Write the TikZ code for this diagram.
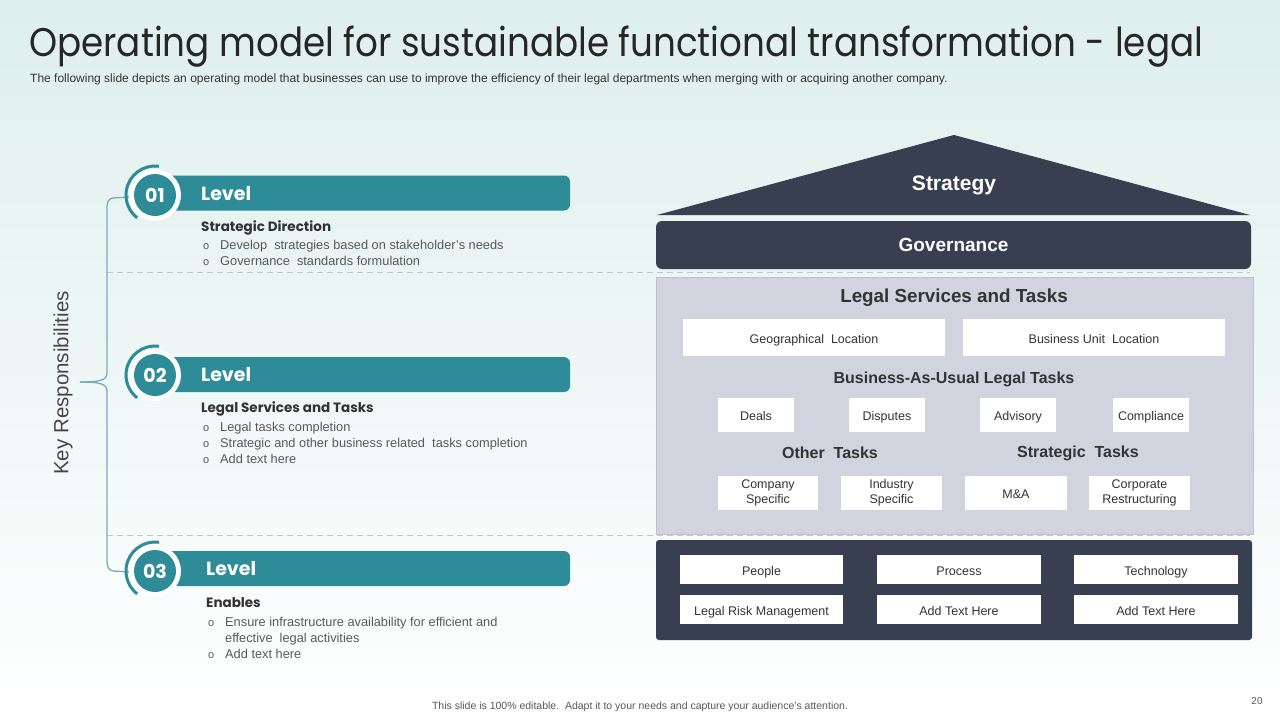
\documentclass[tikz,border=0pt]{standalone}
\usepackage{fontspec}
\setmainfont{Liberation Sans}
\newfontfamily\titlefont{Poppins}
\newfontfamily\headfont{Poppins}
\definecolor{bgtop}{RGB}{222,239,237}
\definecolor{teal}{RGB}{46,139,152}
\definecolor{tealline}{RGB}{120,172,186}
\definecolor{navy}{RGB}{55,63,81}
\definecolor{panelgray}{RGB}{209,212,222}
\definecolor{panelborder}{RGB}{190,194,204}
\definecolor{titlegray}{RGB}{38,38,38}
\definecolor{bodygray}{RGB}{89,89,89}
\definecolor{darktext}{RGB}{51,51,51}
\definecolor{keygray}{RGB}{70,70,70}
\definecolor{dashgray}{RGB}{195,200,200}
\tikzset{
  levelbar/.style={fill=teal, rounded corners=6pt},
  leveltxt/.style={anchor=base west, inner sep=0, text=white, font=\headfont\bfseries\fontsize{19}{19}\selectfont},
  numtxt/.style={text=white, font=\headfont\bfseries\fontsize{19}{19}\selectfont},
  headtxt/.style={anchor=base west, inner sep=0, text=darktext, font=\headfont\bfseries\fontsize{13.5}{13.5}\selectfont},
  bultxt/.style={anchor=base west, inner sep=0, text=bodygray, font=\fontsize{12.8}{12.8}\selectfont},
  bulmark/.style={anchor=base west, inner sep=0, text=bodygray, font=\fontsize{11}{11}\selectfont},
  dashln/.style={draw=dashgray, dash pattern=on 6pt off 4pt, line width=0.9pt},
  brace/.style={draw=tealline, line width=1.3pt},
  wbox/.style={fill=white, inner sep=0, text=darktext, font=\fontsize{12.5}{14.5}\selectfont, text height=11pt, text depth=0pt},
  wboxtwo/.style={fill=white, inner sep=0, text=darktext, font=\fontsize{12.5}{14.5}\selectfont, align=center},
  panelhead/.style={text=darktext, font=\bfseries\fontsize{16}{16}\selectfont},
  navytxt/.style={text=white, font=\bfseries\fontsize{19}{19}\selectfont},
}
\begin{document}
\begin{tikzpicture}[x=1pt,y=-1pt]
\useasboundingbox (0,0) rectangle (1280,720);
\shade[top color=bgtop,bottom color=white] (0,0) rectangle (1280,720);

% title
\node[anchor=base west, inner sep=0, text=titlegray, font=\titlefont\fontsize{40}{40}\selectfont] (title) at (29,56) {\scalebox{0.893}[1]{Operating model for sustainable functional transformation - legal}};
\node[anchor=base west, inner sep=0, text=darktext, font=\fontsize{12}{12}\selectfont] (subtitle) at (30,82) {The following slide depicts an operating model that businesses can use to improve the efficiency of their legal departments when merging with or acquiring another company.};

% dashed separators
\coordinate (d1a) at (107,272); \coordinate (d1b) at (1250,272);
\coordinate (d2a) at (107,535); \coordinate (d2b) at (1250,535);
\draw[dashln] (d1a) -- (d1b);
\draw[dashln] (d2a) -- (d2b);

% left bracket
\coordinate (btop) at (130,197);
\coordinate (bbot) at (130,572);
\coordinate (btip) at (80,382);
\draw[brace] (btop) -- (113,198) .. controls (108,199) and (107,202) .. (107,208) -- (107,372) .. controls (107,379) and (104,382) .. (btip);
\draw[brace] (btip) .. controls (104,382) and (107,385) .. (107,392) -- (107,560) .. controls (107,566) and (108,570) .. (113,571) -- (bbot);
\node[rotate=90, text=keygray, font=\fontsize{20.5}{20.5}\selectfont] (keyresp) at (63,383) {Key Responsibilities};

% level bars
\foreach \nm/\yc/\lx in {l1/193/201, l2/374.5/201, l3/568.5/206}{
  \fill[levelbar] (160,\yc-17.5) rectangle (570,\yc+17.5);
  \node[leveltxt] (\nm txt) at (\lx,\yc+7) {Level};
}
\foreach \nm/\cx/\cy/\num in {c1/155/195/01, c2/155/375/02, c3/155/571/03}{
  \draw[teal, line width=3pt] (\cx,\cy) ++(-82:29) arc[start angle=-82, end angle=-232, radius=29];
  \fill[white] (\cx,\cy) circle[radius=26];
  \node[circle, fill=teal, minimum size=42pt, inner sep=0, numtxt] (\nm) at (\cx,\cy) {\num};
}

% level 1 text
\node[headtxt] (h1) at (201,231) {Strategic Direction};
\node[bulmark] (b11m) at (203,249) {o}; \node[bultxt] (b11) at (220,249) {Develop\ \ strategies based on stakeholder's needs};
\node[bulmark] (b12m) at (203,265) {o}; \node[bultxt] (b12) at (220,265) {Governance\ \ standards formulation};

% level 2 text
\node[headtxt] (h2) at (201,412) {Legal Services and Tasks};
\node[bulmark] (b21m) at (203,431) {o}; \node[bultxt] (b21) at (220,431) {Legal tasks completion};
\node[bulmark] (b22m) at (203,447) {o}; \node[bultxt] (b22) at (220,447) {Strategic and other business related\ \ tasks completion};
\node[bulmark] (b23m) at (203,463) {o}; \node[bultxt] (b23) at (220,463) {Add text here};

% level 3 text
\node[headtxt] (h3) at (206,607) {Enables};
\node[bulmark] (b31m) at (208,626) {o}; \node[bultxt] (b31) at (225,626) {Ensure infrastructure availability for efficient and};
\node[bultxt] (b31b) at (225,642) {effective\ \ legal activities};
\node[bulmark] (b32m) at (208,658) {o}; \node[bultxt] (b32) at (225,658) {Add text here};

% right: roof
\fill[navy] (954,135) -- (1250,215) -- (657,215) -- cycle;
\node[navytxt, font=\bfseries\fontsize{21}{21}\selectfont] (strategy) at (954,185) {Strategy};
\node[fill=navy, rounded corners=6pt, minimum width=595pt, minimum height=48pt, navytxt] (gov) at (953.5,245) {Governance};

% grey panel
\node[fill=panelgray, draw=panelborder, line width=0.8pt, minimum width=597pt, minimum height=257pt, inner sep=0] (panel) at (954.5,405.5) {};
\node[panelhead, font=\bfseries\fontsize{18.8}{18.8}\selectfont] (lst) at (954,298) {Legal Services and Tasks};
\node[wbox, minimum width=262pt, minimum height=37pt] (geo) at (814,337.5) {Geographical\ \ Location};
\node[wbox, minimum width=262pt, minimum height=37pt] (bul) at (1094,337.5) {Business Unit\ \ Location};
\node[panelhead] (bau) at (954,379) {Business-As-Usual Legal Tasks};
\node[wbox, minimum width=76pt, minimum height=34pt] (deals) at (756,415) {Deals};
\node[wbox, minimum width=76pt, minimum height=34pt] (disp) at (887,415) {Disputes};
\node[wbox, minimum width=76pt, minimum height=34pt] (adv) at (1018,415) {Advisory};
\node[wbox, minimum width=76pt, minimum height=34pt] (comp) at (1151,415) {Compliance};
\node[panelhead] (other) at (830,453) {Other\ \ Tasks};
\node[panelhead] (strat) at (1078,453) {Strategic\ \ Tasks};
\node[wboxtwo, minimum width=100pt, minimum height=34pt] (cs) at (768,493) {Company\\Specific};
\node[wboxtwo, minimum width=101pt, minimum height=34pt] (is) at (891.5,493) {Industry\\Specific};
\node[wbox, minimum width=102pt, minimum height=34pt] (ma) at (1016,493) {M\&A};
\node[wboxtwo, minimum width=101pt, minimum height=34pt] (cr) at (1139.5,493) {Corporate\\Restructuring};

% dark panel
\node[fill=navy, rounded corners=3pt, minimum width=596pt, minimum height=100pt, inner sep=0] (dark) at (954,590) {};
\node[wbox, minimum width=163pt, minimum height=29pt] (people) at (761.5,569.5) {People};
\node[wbox, minimum width=164pt, minimum height=29pt] (proc) at (959,569.5) {Process};
\node[wbox, minimum width=164pt, minimum height=29pt] (tech) at (1156,569.5) {Technology};
\node[wbox, minimum width=163pt, minimum height=29pt] (lrm) at (761.5,609.5) {Legal Risk Management};
\node[wbox, minimum width=164pt, minimum height=29pt] (ath1) at (959,609.5) {Add Text Here};
\node[wbox, minimum width=164pt, minimum height=29pt] (ath2) at (1156,609.5) {Add Text Here};

% footer
\node[text=bodygray, font=\fontsize{10.5}{10.5}\selectfont] (foot) at (640,707) {This slide is 100\% editable.\ \ Adapt it to your needs and capture your audience's attention.};
\node[text=bodygray, font=\fontsize{10}{10}\selectfont] (pg) at (1257,701) {20};
\end{tikzpicture}
\end{document}
